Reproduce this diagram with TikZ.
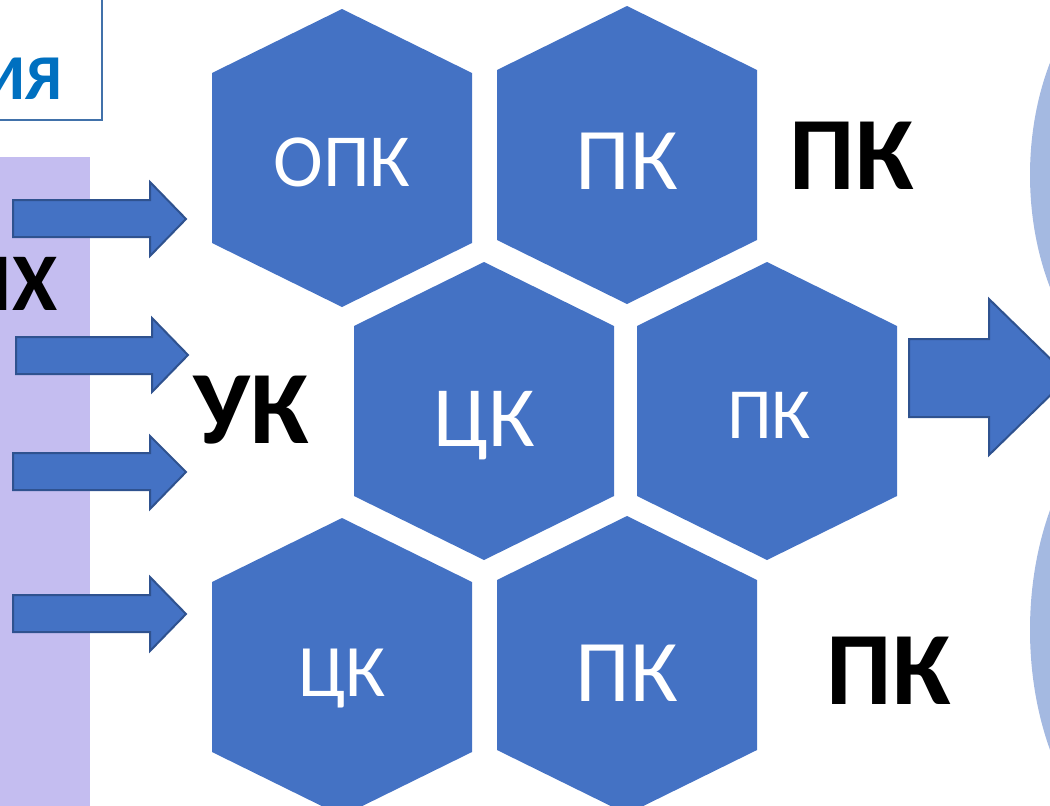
\documentclass[tikz,border=0pt]{standalone}
\usepackage{fontspec}
\setmainfont{Carlito}
\definecolor{hexblue}{RGB}{68,114,196}
\definecolor{arrowedge}{RGB}{47,82,143}
\definecolor{ellblue}{RGB}{164,185,225}
\definecolor{lav}{RGB}{196,189,240}
\definecolor{boxedge}{RGB}{65,113,170}
\definecolor{titleblue}{RGB}{0,112,192}
\newcommand\hexshape[2]{\fill[hexblue, shift={(#1,#2)}] (-130,-85) -- (0,-149) -- (130,-85) -- (130,85) -- (0,149) -- (-130,85) -- cycle;}
\begin{document}
\begin{tikzpicture}[x=1pt,y=-1pt,
  hexlabel/.style={text=white, inner sep=0pt, anchor=base},
  blacklabel/.style={text=black, inner sep=0pt, anchor=base, font=\bfseries\fontsize{104}{120}\selectfont},
  barrow/.style={fill=hexblue, draw=arrowedge, line width=2pt, line join=miter},
]
\clip (0,0) rectangle (1050,806);
% light ellipses at right
\fill[ellblue] (1180,175) ellipse [x radius=150, y radius=225];
\fill[ellblue] (1180,630) ellipse [x radius=150, y radius=240];
% lavender band
\fill[lav] (0,157) rectangle (90,806);
% title box
\draw[boxedge, line width=1.5pt, fill=white] (-5,-5) rectangle (102,120);
\node[text=titleblue, inner sep=0pt, anchor=base east, font=\bfseries\fontsize{64}{72}\selectfont] (title) at (62,99) {ИЯ};
\node[blacklabel, anchor=base east, font=\bfseries\fontsize{82}{90}\selectfont] (left) at (58,310) {ЫХ};
% hexagons
\hexshape{342}{158}
\hexshape{627}{155}
\hexshape{484}{411}
\hexshape{767}{411}
\hexshape{342}{667}
\hexshape{627}{665}
\node[hexlabel, font=\fontsize{75}{85}\selectfont] (opk) at (342,186) {ОПК};
\node[hexlabel, font=\fontsize{88}{96}\selectfont] (pk1) at (627,189) {ПК};
\node[hexlabel, font=\fontsize{86}{96}\selectfont] (ck1) at (484,446) {ЦК};
\node[hexlabel, font=\fontsize{72}{80}\selectfont] (pk2) at (769,438) {ПК};
\node[hexlabel, font=\fontsize{74}{84}\selectfont] (ck2) at (342,696) {ЦК};
\node[hexlabel, font=\fontsize{88}{96}\selectfont] (pk3) at (627,701) {ПК};
% black labels
\node[blacklabel] (pkA) at (852,189) {ПК};
\node[blacklabel] (uk) at (251,443) {УК};
\node[blacklabel] (pkB) at (889,704) {ПК};
% block arrows
\filldraw[barrow] (13,200) -- (150,200) -- (150,182) -- (186,219) -- (150,256) -- (150,237) -- (13,237) -- cycle;
\filldraw[barrow] (16,337) -- (152,337) -- (152,318) -- (188,355) -- (152,392) -- (152,374) -- (16,374) -- cycle;
\filldraw[barrow] (13,453) -- (150,453) -- (150,436) -- (186,472) -- (150,509) -- (150,490) -- (13,490) -- cycle;
\filldraw[barrow] (13,595) -- (150,595) -- (150,577) -- (186,614) -- (150,651) -- (150,632) -- (13,632) -- cycle;
\filldraw[barrow] (909,339) -- (989,339) -- (989,299) -- (1069,377) -- (989,455) -- (989,417) -- (909,417) -- cycle;
\end{tikzpicture}
\end{document}
